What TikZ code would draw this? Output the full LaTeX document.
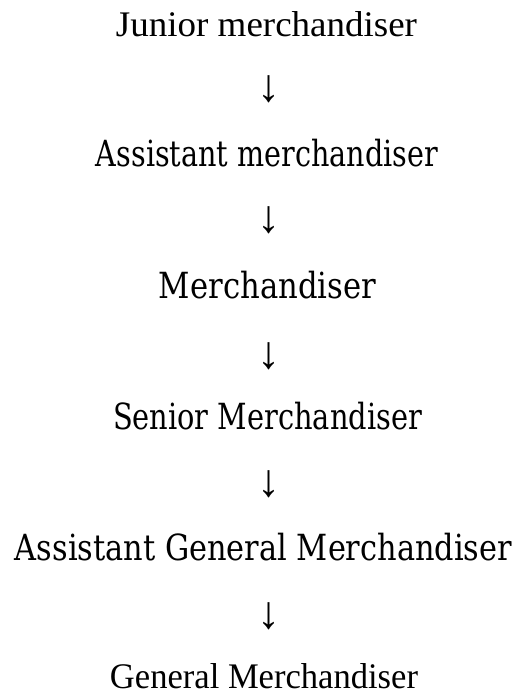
\documentclass[tikz,border=0pt]{standalone}
\usepackage{fontspec}
\usepackage{graphicx}
\setmainfont{Liberation Serif}
\newfontfamily\cambriaish{DejaVu Serif}
\newcommand{\fitw}[2]{\resizebox{#1}{\height}{#2}}
\tikzset{
  tnr/.style={anchor=base, inner sep=0pt, font=\fontsize{36}{40}\selectfont},
  cmb/.style={anchor=base, inner sep=0pt, font=\cambriaish\fontsize{36}{40}\selectfont},
  arr/.style={anchor=center, inner sep=0pt, font=\fontsize{46}{50}\selectfont}
}
\begin{document}
\begin{tikzpicture}[x=1pt,y=1pt]
\useasboundingbox (0,0) rectangle (526,695);
\node[tnr] (n1) at (266.5,658) {\fitw{301pt}{Junior merchandiser}};
\node[arr] (a1) at (269,606) {↓};
\node[cmb] (n2) at (267,528) {\fitw{342pt}{Assistant merchandiser}};
\node[arr] (a2) at (269,475) {↓};
\node[cmb] (n3) at (267.5,396) {\fitw{217pt}{Merchandiser}};
\node[arr] (a3) at (269,339) {↓};
\node[cmb] (n4) at (267.5,265) {\fitw{309pt}{Senior Merchandiser}};
\node[arr] (a4) at (269,211) {↓};
\node[cmb] (n5) at (263.5,134) {\fitw{497pt}{Assistant General Merchandiser}};
\node[arr] (a5) at (269,79) {↓};
\node[tnr] (n6) at (264,6) {\fitw{308pt}{General Merchandiser}};
\end{tikzpicture}
\end{document}
